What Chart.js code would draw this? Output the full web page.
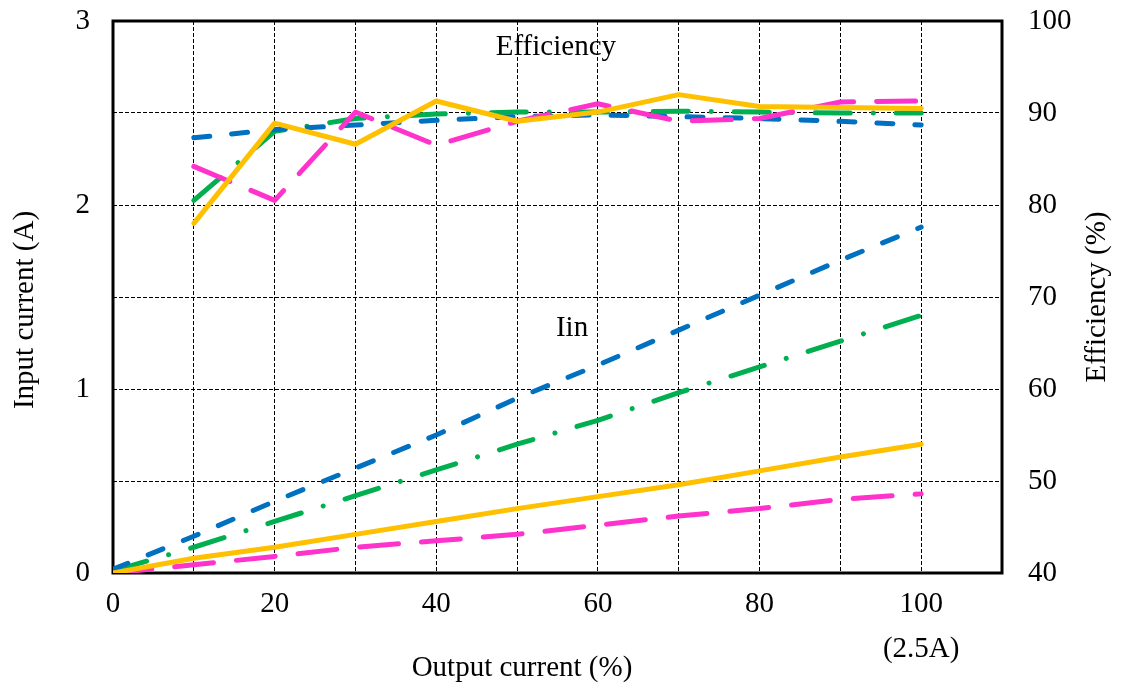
<!DOCTYPE html>
<html>
<head>
<meta charset="utf-8">
<script src="https://cdn.jsdelivr.net/npm/chart.js@4/dist/chart.umd.min.js"></script>
<style>
  body { margin: 0; background: #fff; }
  #wrap { width: 1121px; height: 693px; }
</style>
</head>
<body>
<div id="wrap"><canvas id="myChart"></canvas></div>
<script>
// output current (%) where input current was measured
var outputPct = [0, 10, 20, 30, 40, 50, 60, 70, 80, 90, 100];
// output current (%) where efficiency was measured
var effPct = [10, 20, 30, 40, 50, 60, 70, 80, 90, 100];

// input current (A)
var iinBlue   = [0.02, 0.20, 0.39, 0.57, 0.75, 0.95, 1.13, 1.32, 1.51, 1.70, 1.88];
var iinGreen  = [0.01, 0.14, 0.28, 0.42, 0.56, 0.70, 0.83, 0.98, 1.12, 1.26, 1.40];
var iinYellow = [0.00, 0.08, 0.14, 0.21, 0.28, 0.35, 0.415, 0.48, 0.555, 0.63, 0.70];
var iinPink   = [0.00, 0.045, 0.09, 0.14, 0.175, 0.21, 0.26, 0.31, 0.35, 0.40, 0.43];

// efficiency (%)
var effBlue   = [87.3, 88.2, 88.7, 89.2, 89.6, 89.8, 89.6, 89.4, 89.1, 88.7];
var effGreen  = [80.5, 88.0, 89.4, 89.9, 90.1, 90.1, 90.2, 90.1, 90.0, 90.0];
var effPink   = [84.2, 80.5, 90.1, 86.5, 89.1, 91.0, 89.1, 89.4, 91.2, 91.3];
var effYellow = [78.0, 88.9, 86.6, 91.3, 89.1, 90.1, 92.0, 90.7, 90.6, 90.5];

var leftTicks = [0, 1, 2, 3];
var rightTicks = [40, 50, 60, 70, 80, 90, 100];

var BLUE = '#0070C0', GREEN = '#00B050', PINK = '#FF33CC', YELLOW = '#FFC000';
var FONT = "'Liberation Serif', 'Times New Roman', serif";
var SIZE = 29;

function pts(xs, ys) {
  return xs.map(function (x, i) { return { x: x, y: ys[i] }; });
}

function line(data, color, dash, axis, order) {
  return {
    data: data,
    borderColor: color,
    backgroundColor: color,
    borderWidth: 5,
    borderDash: dash,
    borderCapStyle: 'round',
    borderJoinStyle: 'round',
    pointRadius: 0,
    tension: 0,
    fill: false,
    yAxisID: axis,
    order: order
  };
}

var BLUE_DASH = [16, 22];
var GREEN_DASH = [35, 23, 0.01, 23];
var PINK_DASH = [39, 23];

var texts = {
  id: 'texts',
  beforeDatasetsDraw: function (chart) {
    var a = chart.chartArea, c = chart.ctx;
    c.save();
    c.strokeStyle = '#000';
    c.lineWidth = 3;
    c.strokeRect(a.left, a.top, a.right - a.left, a.bottom - a.top);
    c.restore();
  },
  afterDraw: function (chart) {
    var c = chart.ctx;
    var x = chart.scales.x, y = chart.scales.y, y1 = chart.scales.y1;
    c.save();
    c.fillStyle = '#000';
    c.font = SIZE + 'px ' + FONT;
    c.textAlign = 'center';
    c.textBaseline = 'middle';
    c.fillText('Efficiency', x.getPixelForValue(54.8), y1.getPixelForValue(97.1));
    c.fillText('Iin', x.getPixelForValue(56.8), y.getPixelForValue(1.33));
    c.fillText('Output current (%)', 522, 668);
    c.translate(25, 310);
    c.rotate(-Math.PI / 2);
    c.fillText('Input current (A)', 0, 0);
    c.restore();
    c.save();
    c.fillStyle = '#000';
    c.font = SIZE + 'px ' + FONT;
    c.textAlign = 'center';
    c.textBaseline = 'middle';
    c.translate(1097, 297);
    c.rotate(-Math.PI / 2);
    c.fillText('Efficiency (%)', 0, 0);
    c.restore();
  }
};

var ctx = document.getElementById('myChart');
var myChart = new Chart(ctx, {
  type: 'line',
  data: {
    datasets: [
      line(pts(effPct, effYellow), YELLOW, [], 'y1', 0),
      line(pts(effPct, effPink), PINK, PINK_DASH, 'y1', 1),
      line(pts(effPct, effBlue), BLUE, BLUE_DASH, 'y1', 2),
      line(pts(effPct, effGreen), GREEN, GREEN_DASH, 'y1', 3),
      line(pts(outputPct, iinYellow), YELLOW, [], 'y', 4),
      line(pts(outputPct, iinPink), PINK, PINK_DASH, 'y', 5),
      line(pts(outputPct, iinBlue), BLUE, BLUE_DASH, 'y', 6),
      line(pts(outputPct, iinGreen), GREEN, GREEN_DASH, 'y', 7)
    ]
  },
  options: {
    responsive: true,
    maintainAspectRatio: false,
    animation: false,
    layout: { padding: { top: 0, left: 0, right: 0, bottom: 0 } },
    plugins: {
      legend: { display: false },
      tooltip: { enabled: false }
    },
    scales: {
      x: {
        type: 'linear',
        min: 0,
        max: 110,
        afterFit: function (s) { s.height = 120; },
        afterBuildTicks: function (s) {
          s.ticks = [];
          for (var v = 0; v <= 110; v += 10) s.ticks.push({ value: v });
        },
        ticks: {
          autoSkip: false,
          maxRotation: 0,
          padding: 9,
          color: '#000',
          font: { family: FONT, size: SIZE, lineHeight: '45px' },
          callback: function (v) {
            if (v === 100) return ['100', '(2.5A)'];
            return (v % 20 === 0 && v < 110) ? String(v) : '';
          }
        },
        grid: {
          drawTicks: false,
          lineWidth: 1,
          color: function (c) {
            var v = c.tick && c.tick.value;
            return (v === 0 || v === 110) ? 'rgba(0,0,0,0)' : '#000';
          }
        },
        border: { display: false, dash: [4, 2] }
      },
      y: {
        position: 'left',
        min: 0,
        max: 3,
        afterFit: function (s) {
          s.width = 113;
          s.paddingTop = 21;
        },
        afterBuildTicks: function (s) {
          s.ticks = leftTicks.map(function (v) { return { value: v }; });
        },
        ticks: {
          padding: 23,
          color: '#000',
          font: { family: FONT, size: SIZE }
        },
        grid: { display: false, drawTicks: false },
        border: { display: false }
      },
      y1: {
        position: 'right',
        min: 40,
        max: 100,
        afterFit: function (s) {
          s.width = 119;
          s.paddingTop = 21;
        },
        afterBuildTicks: function (s) {
          s.ticks = rightTicks.map(function (v) { return { value: v }; });
        },
        ticks: {
          padding: 26,
          color: '#000',
          font: { family: FONT, size: SIZE }
        },
        grid: {
          drawTicks: false,
          lineWidth: 1,
          color: function (c) {
            var v = c.tick && c.tick.value;
            return (v === 40 || v === 100) ? 'rgba(0,0,0,0)' : '#000';
          }
        },
        border: { display: false, dash: [4, 2] }
      }
    }
  },
  plugins: [texts]
});
</script>
</body>
</html>
